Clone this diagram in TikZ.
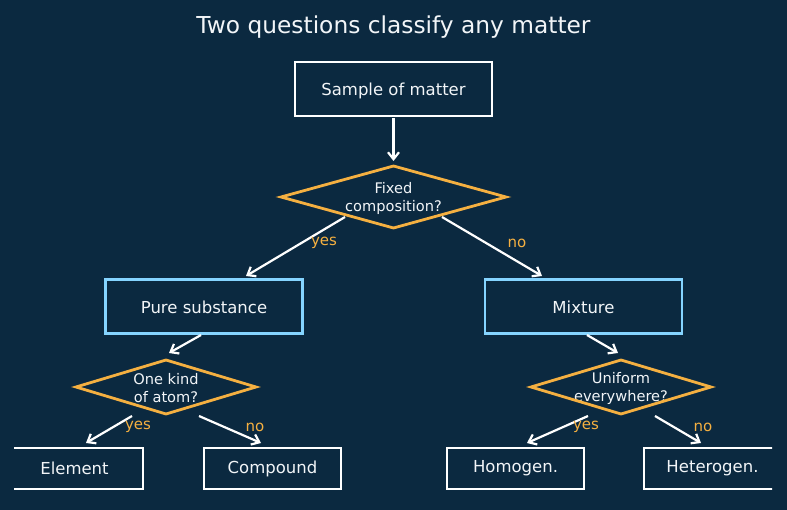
\documentclass[tikz,border=0pt]{standalone}
\usepackage{fontspec}
\setmainfont{DejaVu Sans}
\usetikzlibrary{arrows.meta}
\definecolor{bg}{HTML}{0B2940}
\definecolor{orng}{HTML}{F5B041}
\definecolor{lblue}{HTML}{85D4FF}
\definecolor{txt}{HTML}{F2F5F8}
\tikzset{
  boxw/.style={draw=white, line width=2.8pt, rectangle, minimum width=197pt, minimum height=54pt, inner sep=0pt, text=txt, font=\fontsize{16.5}{19}\selectfont},
  boxb/.style={boxw, draw=lblue},
  leaf/.style={boxw, minimum width=137pt, minimum height=41pt, font=\fontsize{16.5}{19}\selectfont},
  diatext/.style={inner sep=0pt, text=txt, align=center, font=\fontsize{14.6}{18}\selectfont},
  diaedge/.style={draw=orng, line width=2.8pt, line join=miter},
  arr/.style={draw=white, line width=2.2pt, -{Straight Barb[length=7pt,width=11pt,line width=2.2pt]}},
  lab/.style={text=orng, font=\fontsize{15}{18}\selectfont, inner sep=0pt}
}
\begin{document}
\begin{tikzpicture}[x=1pt,y=-1pt]
\fill[bg] (0,0) rectangle (787,510);
\useasboundingbox (0,0) rectangle (787,510);
\node[text=txt, font=\fontsize{23.3}{27}\selectfont] (title) at (393.5,27) {Two questions classify any matter};
\node[boxw] (sample) at (393.5,89) {};
\node[text=txt, font=\fontsize{16.5}{19}\selectfont] (samplet) at (393.5,90.5) {Sample of matter};
\node[diatext] (fixed) at (393.5,198.5) {Fixed\\composition?};
\draw[diaedge] (fixed.center) ++(-112.5,-1.5) -- ++(112.5,-31) -- ++(112.5,31) -- ++(-112.5,31) -- cycle;
\node[boxb] (pure) at (204,306.5) {};
\node[text=txt, font=\fontsize{16.5}{19}\selectfont] (puret) at (204,307.5) {Pure substance};
\node[boxb] (mix) at (583.5,306.5) {};
\node[text=txt, font=\fontsize{16.5}{19}\selectfont] (mixt) at (583.5,307.5) {Mixture};
\node[diatext] (kind) at (166,388) {One kind\\of atom?};
\draw[diaedge] (kind.center) ++(-90,-1) -- ++(90,-27) -- ++(90,27) -- ++(-90,27) -- cycle;
\node[diatext] (unif) at (621,388) {Uniform\\everywhere?};
\draw[diaedge] (unif.center) ++(-90,-1) -- ++(90,-27) -- ++(90,27) -- ++(-90,27) -- cycle;
\begin{scope}
\clip (14,0) rectangle (772,510);
\node[leaf] (elem) at (74.5,468.5) {Element};
\node[leaf] (comp) at (272.5,468.5) {Compound};
\node[leaf] (homo) at (515.5,468.5) {Homogen.};
\node[leaf] (hete) at (712.5,468.5) {Heterogen.};
\end{scope}
\coordinate (a1s) at (393.5,118); \coordinate (a1e) at (393.5,161);
\draw[arr] (a1s) -- (a1e);
\coordinate (f1) at (345,217); \coordinate (p1) at (246,276);
\coordinate (f2) at (442,217); \coordinate (m1) at (542,276);
\draw[arr] (f1) -- (p1);
\draw[arr] (f2) -- (m1);
\node[lab] (y1) at (324,243) {yes};
\node[lab] (n1) at (517,243) {no};
\coordinate (p2) at (201,335); \coordinate (k1) at (169,353);
\coordinate (m2) at (587,335); \coordinate (u1) at (618,353);
\draw[arr] (p2) -- (k1);
\draw[arr] (m2) -- (u1);
\coordinate (k2) at (132,416); \coordinate (e1) at (86,443);
\coordinate (k3) at (199,416); \coordinate (c1) at (261,443);
\coordinate (u2) at (588,416); \coordinate (h1) at (527,443);
\coordinate (u3) at (655,416); \coordinate (h2) at (701,443);
\draw[arr] (k2) -- (e1);
\draw[arr] (k3) -- (c1);
\draw[arr] (u2) -- (h1);
\draw[arr] (u3) -- (h2);
\node[lab] (y2) at (138,427) {yes};
\node[lab] (n2) at (255,427) {no};
\node[lab] (y3) at (586,427) {yes};
\node[lab] (n3) at (703,427) {no};
\end{tikzpicture}
\end{document}
